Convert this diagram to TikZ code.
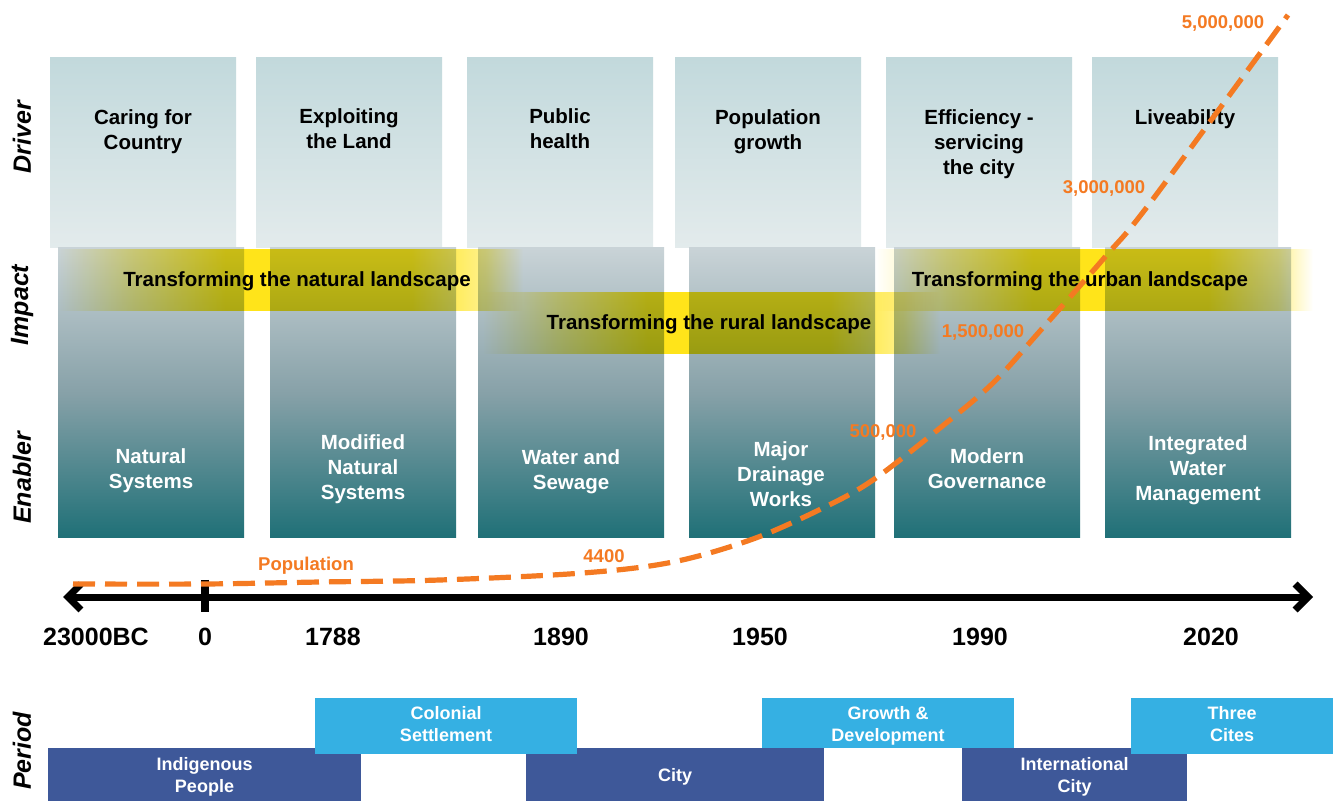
\documentclass[tikz,border=0pt]{standalone}
\usepackage{fontspec}
\setmainfont{Liberation Sans}
\usetikzlibrary{arrows.meta}

\definecolor{topA}{HTML}{C2D9DC}
\definecolor{topB}{HTML}{E3EBEC}
\definecolor{lowA}{HTML}{C9D3D7}
\definecolor{lowB}{HTML}{87A1A8}
\definecolor{lowC}{HTML}{1F7077}
\definecolor{bandY}{HTML}{FFE41A}
\definecolor{popOr}{HTML}{F47A22}
\definecolor{perLight}{HTML}{35B0E3}
\definecolor{perDark}{HTML}{3E5899}

% soft-edged yellow band (white edges vanish under multiply)
\pgfdeclarehorizontalshading{bandshade}{100bp}{color(0bp)=(white); color(25bp)=(white);
  color(33bp)=(bandY!50); color(43bp)=(bandY); color(63bp)=(bandY);
  color(71bp)=(bandY!50); color(75bp)=(white); color(100bp)=(white)}

\tikzset{
  colup/.style={anchor=north west, inner sep=0pt, outer sep=0pt,
    minimum width=93pt, minimum height=95pt, top color=topA, bottom color=topB},
  collow/.style={anchor=north west, inner sep=0pt, outer sep=0pt,
    minimum width=93pt, minimum height=145pt, top color=lowA, bottom color=lowC, middle color=lowB},
  drvtxt/.style={align=center, inner sep=0pt, font=\bfseries\fontsize{10.25pt}{12.5pt}\selectfont},
  enbtxt/.style={drvtxt, text=white},
  band/.style={inner sep=0pt, outer sep=0pt, minimum height=30.5pt, shading=bandshade},
  bandtxt/.style={inner sep=0pt, font=\bfseries\fontsize{10.25pt}{12.5pt}\selectfont},
  rowlab/.style={rotate=90, inner sep=0pt, font=\bfseries\itshape\fontsize{12.5pt}{14pt}\selectfont},
  yearlab/.style={inner sep=0pt, font=\bfseries\fontsize{12.5pt}{14pt}\selectfont},
  poplab/.style={inner sep=0pt, text=popOr, font=\bfseries\fontsize{9.25pt}{11pt}\selectfont},
  popline/.style={draw=popOr, line width=2.6pt, dash pattern=on 11pt off 5pt},
  timeline/.style={line width=3.5pt, {Straight Barb[length=6.5pt,width=13pt]}-{Straight Barb[length=6.5pt,width=13pt]}},
  perbox/.style={inner sep=0pt, outer sep=0pt},
  perlight/.style={perbox, fill=perLight},
  perdark/.style={perbox, fill=perDark},
  pertxt/.style={inner sep=0pt, text=white, align=center,
    font=\bfseries\fontsize{9pt}{11pt}\selectfont},
}

\begin{document}
\begin{tikzpicture}[x=0.5pt, y=-0.5pt]
\useasboundingbox[fill=white] (0,0) rectangle (1338,801);

% --- columns: upper (driver) and lower (impact / enabler) parts
\node[colup] (up1) at (50,58) {};
\node[colup] (up2) at (256,58) {};
\node[colup] (up3) at (467,58) {};
\node[colup] (up4) at (675,58) {};
\node[colup] (up5) at (886,58) {};
\node[colup] (up6) at (1092,58) {};
\node[collow] (low1) at (58,248) {};
\node[collow] (low2) at (270,248) {};
\node[collow] (low3) at (478,248) {};
\node[collow] (low4) at (689,248) {};
\node[collow] (low5) at (894,248) {};
\node[collow] (low6) at (1105,248) {};

% --- impact bands
\begin{scope}[blend mode=multiply]
  \node[band, minimum width=232.5pt, anchor=north west] (bandNat) at (58,250) {};
  \node[band, minimum width=228.5pt, anchor=north west] (bandRur) at (483,293) {};
  \node[band, minimum width=219pt, anchor=north west] (bandUrb) at (875,250) {};
\end{scope}

% --- drivers
\node[drvtxt] (drv1) at (143,132) {Caring for\\Country};
\node[drvtxt] (drv2) at (349,129) {Exploiting\\the Land};
\node[drvtxt] (drv3) at (560,129) {Public\\health};
\node[drvtxt] (drv4) at (768,132) {Population\\growth};
\node[drvtxt] (drv5) at (979,144) {Efficiency -\\servicing\\the city};
\node[drvtxt] (drv6) at (1185,119) {Liveability};

% --- impacts
\node[bandtxt] (impNat) at (297,281) {Transforming the natural landscape};
\node[bandtxt] (impRur) at (709,324) {Transforming the rural landscape};
\node[bandtxt] (impUrb) at (1080,281) {Transforming the urban landscape};

% --- enablers
\node[enbtxt] (enb1) at (151,470.5) {Natural\\Systems};
\node[enbtxt] (enb2) at (363,469.5) {Modified\\Natural\\Systems};
\node[enbtxt] (enb3) at (571,472) {Water and\\Sewage};
\node[enbtxt] (enb4) at (781,474) {Major\\Drainage\\Works};
\node[enbtxt] (enb5) at (987,468.5) {Modern\\Governance};
\node[enbtxt] (enb6) at (1198,470) {Integrated\\Water\\Management};

% --- row labels
\node[rowlab] (rowDrv) at (22,137) {Driver};
\node[rowlab] (rowImp) at (22,305) {Impact};
\node[rowlab] (rowEnb) at (22,478) {Enabler};
\node[rowlab] (rowPer) at (22,751) {Period};

% --- time axis
\coordinate (axisL) at (63,597);
\coordinate (axisR) at (1313,597);
\coordinate (zeroTop) at (205,580);
\coordinate (zeroBot) at (205,612);
\draw[timeline] (axisL) -- (axisR);
\draw[line width=4pt] (zeroTop) -- (zeroBot);

\node[yearlab] (y1) at (96,637) {23000BC};
\node[yearlab] (y2) at (205,637) {0};
\node[yearlab] (y3) at (333,637) {1788};
\node[yearlab] (y4) at (561,637) {1890};
\node[yearlab] (y5) at (760,637) {1950};
\node[yearlab] (y6) at (980,637) {1990};
\node[yearlab] (y7) at (1211,637) {2020};

% --- population curve
\draw[popline] plot[smooth, tension=0.55] coordinates {
  (73,584) (205,584) (320,582) (440,580) (583,573) (673,562) (753,539)
  (823,508) (873,480) (940,428) (993,383) (1040,331) (1105,257)
  (1150,203) (1288,15)};

\node[poplab] (pPop) at (306,566) {Population};
\node[poplab] (p4400) at (604,556) {4400};
\node[poplab] (p500k) at (883,432) {500,000};
\node[poplab] (p15m) at (983,332) {1,500,000};
\node[poplab] (p3m) at (1104,188) {3,000,000};
\node[poplab] (p5m) at (1223,23) {5,000,000};

% --- periods: lower row (dark), upper row (light) on top
\node[perdark, minimum width=156.5pt, minimum height=26.5pt] (perInd) at (204.5,774.5) {};
\node[perdark, minimum width=149pt, minimum height=26.5pt] (perCity) at (675,774.5) {};
\node[perdark, minimum width=112.5pt, minimum height=26.5pt] (perInt) at (1074.5,774.5) {};
\node[perlight, minimum width=131pt, minimum height=28pt] (perCol) at (446,726) {};
\node[perlight, minimum width=126pt, minimum height=25pt] (perGro) at (888,723) {};
\node[perlight, minimum width=101pt, minimum height=28pt] (perThr) at (1232,726) {};

\node[pertxt] (perIndTxt) at (204.5,776.5) {Indigenous\\People};
\node[pertxt] (perCityTxt) at (675,776.5) {City};
\node[pertxt] (perIntTxt) at (1074.5,776.5) {International\\City};
\node[pertxt] (perColTxt) at (446,724) {Colonial\\Settlement};
\node[pertxt] (perGroTxt) at (888,726) {Growth \&\\Development};
\node[pertxt] (perThrTxt) at (1232,724) {Three\\Cites};
\end{tikzpicture}
\end{document}
